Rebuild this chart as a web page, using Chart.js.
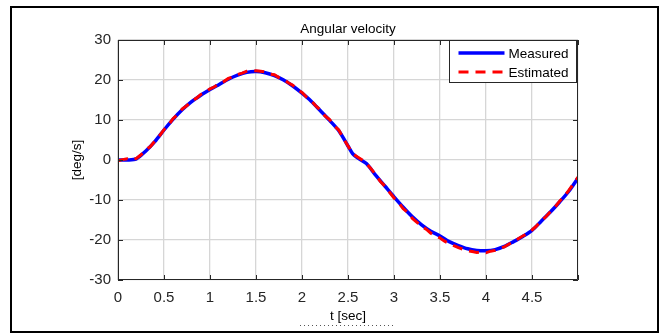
<!DOCTYPE html>
<html>
<head>
<meta charset="utf-8">
<script src="https://cdn.jsdelivr.net/npm/chart.js@4/dist/chart.umd.min.js"></script>
<style>
  html, body { margin: 0; padding: 0; background: #fff; }
  #wrap { width: 667px; height: 336px; }
</style>
</head>
<body>
<div id="wrap"><canvas id="myChart" width="667" height="336"></canvas></div>
<script>
// angular velocity (deg/s)
const measuredTime = [0, 0.1, 0.2, 0.3, 0.4, 0.5, 0.6, 0.7, 0.8, 0.9,
  1, 1.1, 1.2, 1.3, 1.4, 1.5, 1.6, 1.7, 1.8, 1.9,
  2, 2.1, 2.2, 2.3, 2.4, 2.5, 2.55, 2.6, 2.7, 2.8, 2.9,
  3, 3.1, 3.2, 3.3, 3.4, 3.5, 3.6, 3.7, 3.8, 3.9,
  4, 4.1, 4.2, 4.3, 4.4, 4.5, 4.6, 4.7, 4.8, 4.9, 5];
const measuredValues = [0, 0, 0.3, 2.2, 4.6, 7.5, 10.2, 12.6, 14.6, 16.2,
  17.6, 18.9, 20.2, 21.2, 21.9, 22.1, 21.8, 21.1, 20.0, 18.5,
  16.7, 14.7, 12.3, 9.9, 7.3, 3.5, 1.6, 0.6, -0.9, -3.8, -6.5,
  -9.2, -11.8, -14.2, -16.2, -17.8, -19.0, -20.4, -21.4, -22.2, -22.6,
  -22.7, -22.4, -21.6, -20.4, -19.1, -17.6, -15.3, -13.0, -10.5, -7.8, -4.5];

const estimatedTime = [0, 0.05, 0.1, 0.15, 0.2, 0.25, 0.3, 0.35, 0.4, 0.45,
  0.5, 0.55, 0.6, 0.65, 0.7, 0.75, 0.8, 0.85, 0.9, 0.95,
  1, 1.05, 1.1, 1.15, 1.2, 1.25, 1.3, 1.35, 1.4, 1.45,
  1.5, 1.55, 1.6, 1.65, 1.7, 1.75, 1.8, 1.85, 1.9, 1.95,
  2, 2.05, 2.1, 2.15, 2.2, 2.25, 2.3, 2.35, 2.4, 2.45,
  2.5, 2.55, 2.6, 2.65, 2.7, 2.75, 2.8, 2.85, 2.9, 2.95,
  3, 3.05, 3.1, 3.15, 3.2, 3.25, 3.3, 3.35, 3.4, 3.45,
  3.5, 3.55, 3.6, 3.65, 3.7, 3.75, 3.8, 3.85, 3.9, 3.95,
  4, 4.05, 4.1, 4.15, 4.2, 4.25, 4.3, 4.35, 4.4, 4.45,
  4.5, 4.55, 4.6, 4.65, 4.7, 4.75, 4.8, 4.85, 4.9, 4.95, 5];
const estimatedValues = [-0.2, 0.1, 0.3, 0.0, 0.4, 1.3, 2.5, 3.3, 4.7, 6.0,
  7.6, 8.8, 10.4, 11.4, 12.8, 13.6, 14.8, 15.4, 16.4, 17.0,
  17.8, 18.3, 19.1, 19.6, 20.4, 20.8, 21.4, 21.7, 22.2, 22.4,
  22.3, 22.2, 22.0, 21.5, 21.3, 20.6, 20.2, 19.3, 18.7, 17.6,
  16.9, 15.7, 14.8, 13.5, 12.5, 11.0, 10.1, 8.5, 7.5, 5.4,
  3.5, 1.6, 0.8, 0.1, -0.9, -2.2, -3.6, -5.3, -6.5, -8.0,
  -9.5, -10.6, -12.2, -13.1, -14.6, -15.6, -16.6, -17.3, -18.3, -18.9,
  -19.5, -20.3, -20.9, -21.4, -21.9, -22.3, -22.7, -22.9, -23.1, -23.0,
  -23.2, -22.8, -22.6, -22.1, -21.7, -21.0, -20.5, -19.7, -19.0, -18.4,
  -17.5, -16.5, -15.2, -14.2, -12.9, -11.8, -10.3, -9.1, -7.6, -6.0, -4.3];

const seriesNames = ["Measured", "Estimated"];
const chartTitle = "Angular velocity";
const xLabel = "t [sec]";
const yLabel = "[deg/s]";

const ink = "#262626";
const font = "'Liberation Sans', Arial, sans-serif";

function toPoints(ts, vs) {
  return ts.map((t, i) => ({ x: t, y: vs[i] }));
}

// title over the axes, inward ticks, box, inset legend, outer frame
const matlabLook = {
  id: "matlabLook",
  afterDraw(chart) {
    const ctx = chart.ctx;
    const a = chart.chartArea;
    const xs = chart.scales.x, ys = chart.scales.y;
    ctx.save();

    ctx.fillStyle = "#000";
    ctx.font = "13.5px " + font;
    ctx.textAlign = "center";
    ctx.textBaseline = "middle";
    ctx.fillText(chartTitle, (a.left + a.right) / 2, a.top - 11);
    ctx.textAlign = "left";

    ctx.strokeStyle = ink;
    ctx.lineWidth = 1;
    ctx.beginPath();
    ctx.rect(a.left + 0.5, a.top + 0.5, a.right - a.left - 1, a.bottom - a.top - 1);
    ctx.stroke();
    ctx.beginPath();
    xs.ticks.forEach(t => {
      const px = Math.round(xs.getPixelForValue(t.value)) + 0.5;
      ctx.moveTo(px, a.bottom); ctx.lineTo(px, a.bottom - 5);
      ctx.moveTo(px, a.top); ctx.lineTo(px, a.top + 5);
    });
    ys.ticks.forEach(t => {
      const py = Math.round(ys.getPixelForValue(t.value)) + 0.5;
      ctx.moveTo(a.left, py); ctx.lineTo(a.left + 5, py);
      ctx.moveTo(a.right, py); ctx.lineTo(a.right - 5, py);
    });
    ctx.stroke();

    // legend box
    const bw = 127, bh = 42;
    const bx = a.right - bw - 1.5, by = a.top + 0.5;
    ctx.fillStyle = "#fff";
    ctx.fillRect(bx, by, bw, bh);
    ctx.strokeRect(bx, by, bw, bh);
    ctx.font = "13.5px " + font;
    chart.data.datasets.forEach((ds, i) => {
      const ly = by + 12.5 + i * 19;
      ctx.strokeStyle = ds.borderColor;
      ctx.lineWidth = ds.borderWidth;
      ctx.setLineDash(ds.borderDash || []);
      ctx.beginPath();
      ctx.moveTo(bx + 9, ly); ctx.lineTo(bx + 55, ly);
      ctx.stroke();
      ctx.setLineDash([]);
      ctx.fillStyle = "#000";
      ctx.fillText(ds.label, bx + 59, ly + 1);
    });

    // dotted remnant under the x label
    ctx.strokeStyle = "#555";
    ctx.lineWidth = 1;
    ctx.setLineDash([1, 3]);
    ctx.beginPath();
    ctx.moveTo(300, 325.5); ctx.lineTo(395, 325.5);
    ctx.stroke();
    ctx.setLineDash([]);

    // figure frame
    ctx.strokeStyle = "#000";
    ctx.lineWidth = 2;
    ctx.strokeRect(11, 7, 647, 325);
    ctx.restore();
  }
};

new Chart(document.getElementById("myChart"), {
  type: "line",
  data: {
    datasets: [
      {
        label: seriesNames[0],
        data: toPoints(measuredTime, measuredValues),
        borderColor: "rgb(0,0,255)",
        borderWidth: 3.5,
        pointRadius: 0,
        tension: 0.3,
        order: 1,
      },
      {
        label: seriesNames[1],
        data: toPoints(estimatedTime, estimatedValues),
        borderColor: "rgb(255,0,0)",
        borderWidth: 3,
        borderDash: [10, 7],
        pointRadius: 0,
        tension: 0,
        order: 0,
      },
    ],
  },
  plugins: [matlabLook],
  options: {
    responsive: false,
    animation: false,
    devicePixelRatio: 1,
    layout: { padding: { left: 0, right: 89, top: 40, bottom: 0 } },
    plugins: {
      legend: { display: false },
      tooltip: { enabled: false },
      title: { display: false },
    },
    scales: {
      x: {
        type: "linear",
        min: 0,
        max: 5,
        afterFit(scale) { scale.height = 56; },
        ticks: {
          stepSize: 0.5,
          color: ink,
          padding: 9,
          maxRotation: 0,
          font: { family: font, size: 15 },
          callback: v => (v >= 5 ? "" : v),
        },
        grid: { color: "#d6d6d6", lineWidth: 1.3, drawTicks: false },
        border: { display: false },
        title: {
          display: true,
          text: xLabel,
          color: "#000",
          font: { family: font, size: 13.5 },
          padding: { top: 0, bottom: 12 },
        },
      },
      y: {
        min: -30,
        max: 30,
        afterFit(scale) { scale.width = 118; },
        ticks: {
          stepSize: 10,
          color: ink,
          padding: 7,
          font: { family: font, size: 15 },
        },
        grid: { color: "#d6d6d6", lineWidth: 1.3, drawTicks: false },
        border: { display: false },
        title: {
          display: true,
          text: yLabel,
          color: "#000",
          font: { family: font, size: 13.5 },
          padding: { top: 69, bottom: 0 },
        },
      },
    },
  },
});
</script>
</body>
</html>
